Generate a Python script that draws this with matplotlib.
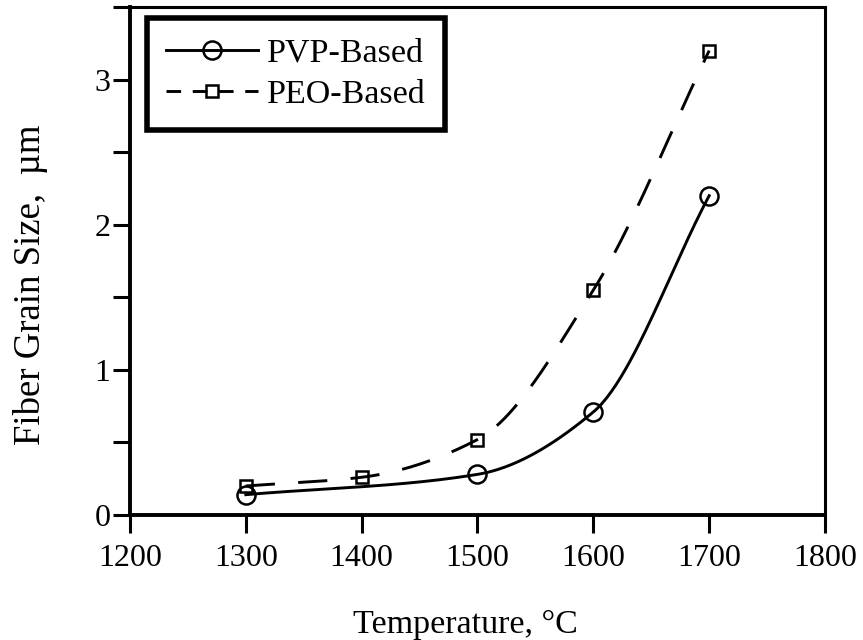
import numpy as np
import matplotlib
matplotlib.use('Agg')
import matplotlib.pyplot as plt
from matplotlib.ticker import MultipleLocator

# data
pvp_temp = [1300, 1500, 1600, 1700]
pvp_size = [0.14, 0.28, 0.71, 2.20]
peo_temp = [1300, 1400, 1500, 1600, 1700]
peo_size = [0.20, 0.26, 0.52, 1.55, 3.20]

x_ticks = [1200, 1300, 1400, 1500, 1600, 1700, 1800]
y_ticks = [0, 1, 2, 3]


def smooth(x, y, n=200):
    # monotone cubic (Fritsch-Carlson) curve through the points, for drawing only
    x = np.asarray(x, float)
    y = np.asarray(y, float)
    h = np.diff(x)
    d = np.diff(y) / h
    m = np.zeros_like(y)
    m[0] = d[0]
    m[-1] = d[-1]
    for k in range(1, len(x) - 1):
        if d[k - 1] * d[k] > 0:
            w1 = 2 * h[k] + h[k - 1]
            w2 = h[k] + 2 * h[k - 1]
            m[k] = (w1 + w2) / (w1 / d[k - 1] + w2 / d[k])
    xs = np.linspace(x[0], x[-1], n)
    i = np.clip(np.searchsorted(x, xs) - 1, 0, len(x) - 2)
    t = (xs - x[i]) / h[i]
    h00 = 2 * t**3 - 3 * t**2 + 1
    h10 = t**3 - 2 * t**2 + t
    h01 = -2 * t**3 + 3 * t**2
    h11 = t**3 - t**2
    ys = h00 * y[i] + h10 * h[i] * m[i] + h01 * y[i + 1] + h11 * h[i] * m[i + 1]
    return xs, ys


plt.rcParams['font.family'] = ['Liberation Serif', 'DejaVu Serif']
plt.rcParams['font.size'] = 23

fig = plt.figure(figsize=(8.63, 6.4), dpi=100)
ax = fig.add_axes([0.1506, 0.1953, 0.8054, 0.7937])

dash = (0, (10, 8))

xs, ys = smooth(pvp_temp, pvp_size)
ax.plot(xs, ys, color='black', lw=2.1, ls='-')
ax.plot(pvp_temp, pvp_size, ls='none', marker='o', ms=13, mfc='none',
        mec='black', mew=1.8)

xs, ys = smooth(peo_temp, peo_size)
ax.plot(xs, ys, color='black', lw=2.1, ls=dash)
ax.plot(peo_temp, peo_size, ls='none', marker='s', ms=8.5, mfc='none',
        mec='black', mew=1.8)

# legend handles
h1, = ax.plot([], [], color='black', lw=2.1, marker='o', ms=13, mfc='none',
              mec='black', mew=1.8, label='PVP-Based')
h2, = ax.plot([], [], color='black', lw=2.1, ls=(0, (5, 4)), marker='s', ms=8.5,
              mfc='none', mec='black', mew=1.8, label='PEO-Based')
leg = ax.legend(handles=[h1, h2], loc='upper left', bbox_to_anchor=(0.0245, 0.978),
                borderaxespad=0, fancybox=False, framealpha=1, edgecolor='black',
                handlelength=2.7, borderpad=0.57, labelspacing=0.32,
                handletextpad=0.26, fontsize=24.5)
leg.get_frame().set_linewidth(4)

ax.set_xlim(1200, 1800)
ax.set_ylim(0, 3.5)
ax.set_xticks(x_ticks)
ax.set_yticks(y_ticks)
ax.yaxis.set_minor_locator(MultipleLocator(0.5))
ax.tick_params(which='both', direction='out', width=2.2, color='black')
ax.tick_params(axis='x', which='major', length=13, pad=8)
ax.tick_params(axis='y', which='both', length=12, pad=2)

for side in ['left', 'bottom']:
    ax.spines[side].set_linewidth(2.8)
for side in ['top', 'right']:
    ax.spines[side].set_linewidth(2.2)

ax.set_xlabel('Temperature, °C', fontsize=24.5)
ax.xaxis.set_label_coords(0.482, -0.186)
ax.set_ylabel('Fiber Grain Size,  µm', fontsize=26.5)
ax.yaxis.set_label_coords(-0.118, 0.453)

fig.savefig('out.png', dpi=100)
